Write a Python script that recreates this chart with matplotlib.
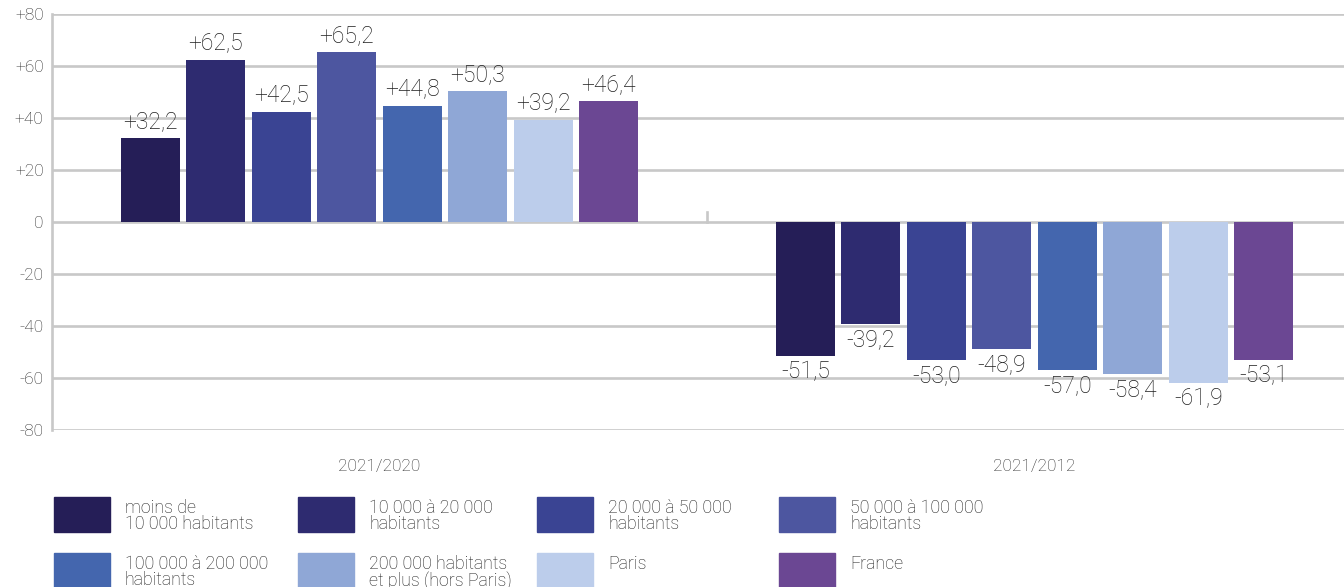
import matplotlib
matplotlib.use("Agg")
import matplotlib.pyplot as plt
from matplotlib.patches import Rectangle
import numpy as np

plt.rcParams['font.family'] = ['Roboto', 'DejaVu Sans']

periods = ["2021/2020", "2021/2012"]
categories = [
    "moins de\n10 000 habitants",
    "10 000 à 20 000\nhabitants",
    "20 000 à 50 000\nhabitants",
    "50 000 à 100 000\nhabitants",
    "100 000 à 200 000\nhabitants",
    "200 000 habitants\net plus (hors Paris)",
    "Paris",
    "France",
]
values_2021_2020 = [32.2, 62.5, 42.5, 65.2, 44.8, 50.3, 39.2, 46.4]
values_2021_2012 = [-51.5, -39.2, -53.0, -48.9, -57.0, -58.4, -61.9, -53.1]
colors = ["#251e57", "#2e2b70", "#3a4493", "#4d56a0",
          "#4466ae", "#8fa7d6", "#bccdeb", "#6b4793"]
yticks = [80, 60, 40, 20, 0, -20, -40, -60, -80]
ytick_labels = ["+80", "+60", "+40", "+20", "0", "-20", "-40", "-60", "-80"]

W, H = 1344, 587
fig = plt.figure(figsize=(W / 100, H / 100), dpi=100)
ax = fig.add_axes([52 / W, (H - 430) / H, 1310 / W, 416 / H])

grid_c = "#c8c8c8"
text_c = "#1e1e1e"
step = 0.1
width = 0.09
x = np.arange(len(periods))
data = np.array([values_2021_2020, values_2021_2012]).T  # categories x periods

for i, (cat, col) in enumerate(zip(categories, colors)):
    xpos = x + (i - 3.5) * step
    ax.bar(xpos, data[i], width=width, color=col, zorder=3)
    for xp, v in zip(xpos, data[i]):
        s = ("+" if v > 0 else "-") + f"{abs(v):.1f}".replace(".", ",")
        if v >= 0:
            ax.annotate(s, (xp, v), xytext=(0, 4), textcoords="offset points",
                        ha="center", va="bottom", fontsize=16.5, color=text_c,
                        fontweight="light", zorder=4)
        else:
            ax.annotate(s, (xp, v), xytext=(0, -3), textcoords="offset points",
                        ha="center", va="top", fontsize=16.5, color=text_c,
                        fontweight="light", zorder=4)

ax.set_xlim(-0.5, 1.5)
ax.set_ylim(-80, 80)
ax.set_yticks(yticks)
ax.set_yticklabels(ytick_labels, fontweight="light")
ax.set_xticks(x)
ax.set_xticklabels(periods, fontweight="light")
ax.tick_params(axis="y", length=0, pad=6, labelsize=12.5, labelcolor="#2a2a2a")
ax.tick_params(axis="x", length=0, pad=21, labelsize=12.5, labelcolor="#2a2a2a")
for yt in yticks:
    ax.axhline(yt, color=grid_c, lw=1.9, zorder=1)
for s in ["top", "right", "bottom"]:
    ax.spines[s].set_visible(False)
ax.spines["left"].set_color(grid_c)
ax.spines["left"].set_linewidth(1.9)
# separator tick between the two groups
ax.axvline(0.5, ymin=0.5, ymax=0.5 + 4 / 160, color=grid_c, lw=1.9, zorder=1)

# legend (manual grid of 4 columns)
col_x = [54, 298, 537, 779]
row_y = [497, 553]
pw, ph = 56, 35
for i, (cat, col) in enumerate(zip(categories, colors)):
    r, c = divmod(i, 4)
    x0 = col_x[c]
    y0 = row_y[r]
    fig.patches.append(Rectangle((x0 / W, 1 - (y0 + ph) / H), pw / W, ph / H,
                                 transform=fig.transFigure, color=col))
    fig.text((x0 + pw + 15) / W, 1 - (y0 + 2) / H, cat, ha="left", va="top",
             fontsize=12.8, color=text_c, fontweight="light", linespacing=0.88)

fig.savefig("out.png", dpi=100)
